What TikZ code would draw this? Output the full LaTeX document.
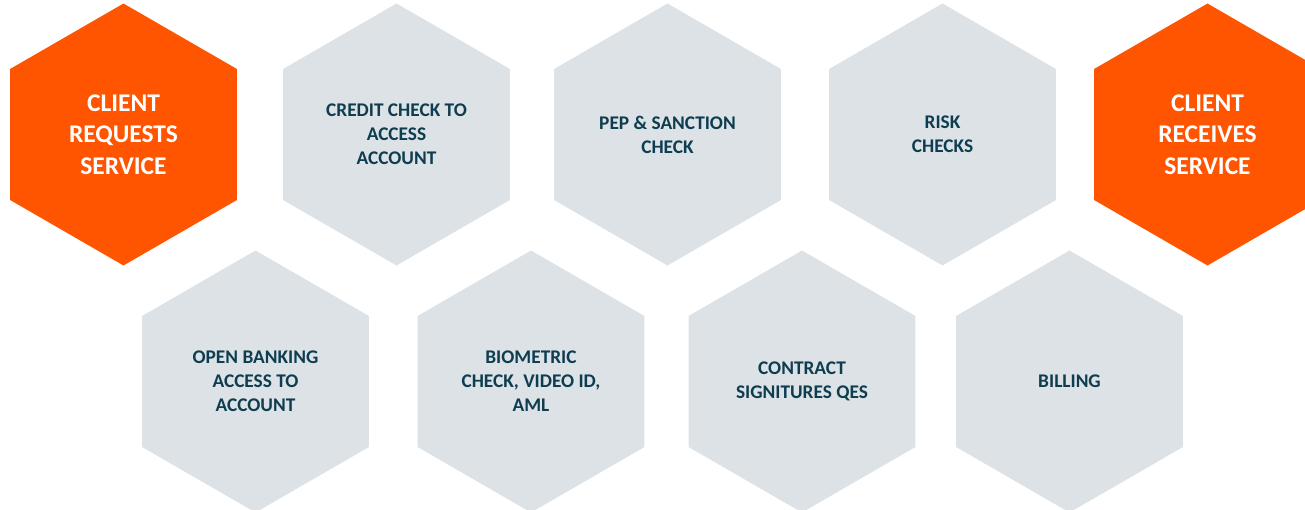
\documentclass[tikz,border=0pt]{standalone}
\usepackage{fontspec}
\setmainfont{Carlito}
\usetikzlibrary{shapes.geometric}

\definecolor{hexorange}{HTML}{FF5400}
\definecolor{hexgray}{HTML}{DCE2E6}
\definecolor{hextext}{HTML}{0F3D50}

\tikzset{
    hexcell/.style={regular polygon, regular polygon sides=6, shape border rotate=30,
        minimum size=5.24cm, inner sep=0pt, align=center, font=\bfseries},
    endcell/.style={hexcell, fill=hexorange, text=white, font=\bfseries\fontsize{14.5}{18}\selectfont},
    stepcell/.style={hexcell, fill=hexgray, text=hextext, font=\bfseries\fontsize{11}{13.6}\selectfont}
}

\begin{document}
\begin{tikzpicture}[x=0.02cm,y=-0.02cm]
    \clip (0,0) rectangle (1305,510);
    \fill[white] (0,0) rectangle (1305,510);

    % top row
    \node[endcell]  (request) at (123.5,134.5) {CLIENT\\REQUESTS\\SERVICE};
    \node[stepcell] (credit)  at (396.5,134.5) {CREDIT CHECK TO\\ACCESS\\ACCOUNT};
    \node[stepcell] (pep)     at (667.5,134.5) {PEP \& SANCTION\\CHECK};
    \node[stepcell] (risk)    at (942.5,134.5) {RISK\\CHECKS};
    \node[endcell]  (receive) at (1207.5,134.5) {CLIENT\\RECEIVES\\SERVICE};

    % bottom row
    \node[stepcell] (banking)   at (255.5,381.5) {OPEN BANKING\\ACCESS TO\\ACCOUNT};
    \node[stepcell] (biometric) at (531,381.5) {BIOMETRIC\\CHECK, VIDEO ID,\\AML};
    \node[stepcell] (contract)  at (802,381.5) {CONTRACT\\SIGNITURES QES};
    \node[stepcell] (billing)   at (1069.5,381.5) {BILLING};

\end{tikzpicture}
\end{document}
